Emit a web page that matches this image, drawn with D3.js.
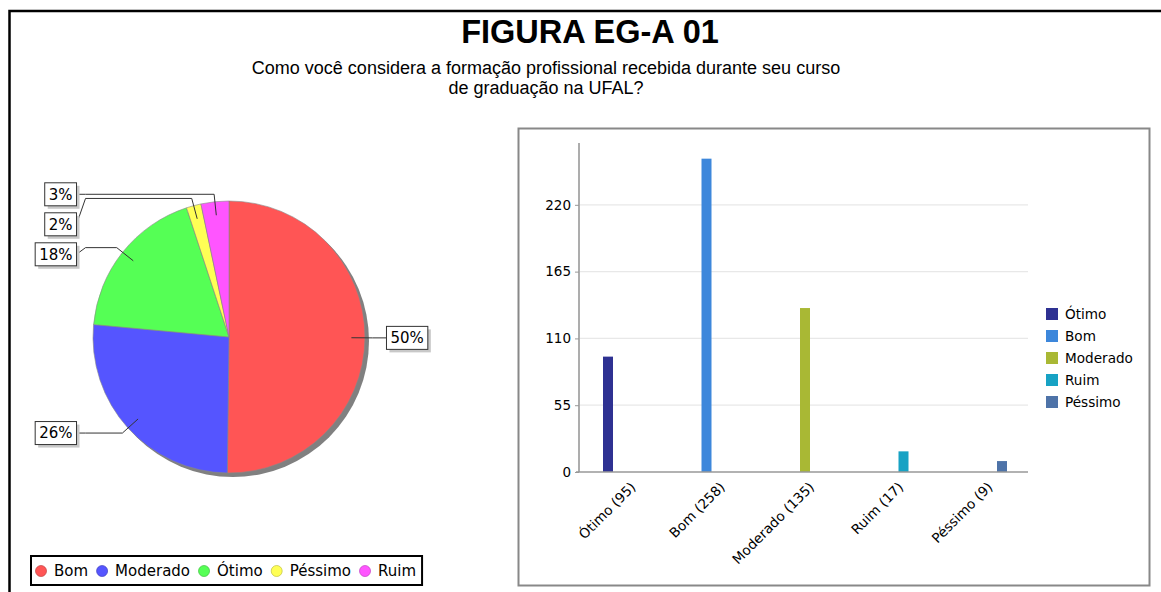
<!DOCTYPE html>
<html>
<head>
<meta charset="utf-8">
<script src="https://cdn.jsdelivr.net/npm/d3@7"></script>
<style>
  body { margin: 0; background: #fff; }
  svg { display: block; }
  text { font-family: "DejaVu Sans", sans-serif; fill: #000; }
</style>
</head>
<body>
<svg id="chart"></svg>
<script>
// Data
const categories = ["Ótimo", "Bom", "Moderado", "Ruim", "Péssimo"];
const counts = [95, 258, 135, 17, 9];
const barColors = ["#2e3192", "#3d87db", "#a9b834", "#17a2c4", "#4e73a8"];
const yTicks = [0, 55, 110, 165, 220];

const pieOrder = ["Bom", "Moderado", "Ótimo", "Péssimo", "Ruim"];
const pieColors = ["#ff5555", "#5555ff", "#55ff55", "#ffff55", "#ff55ff"];
const pieStroke = ["#c04040", "#4040c0", "#40c040", "#c0c040", "#c040c0"];

const titleText = "FIGURA EG-A 01";
const subtitleLines = [
  "Como você considera a formação profissional recebida durante seu curso",
  "de graduação na UFAL?"
];

const W = 1161, H = 592;
const svg = d3.select('#chart').attr('width', W).attr('height', H);

// outer frame
svg.append('path')
  .attr('d', `M9.5,${H} V11 H${W}`)
  .attr('fill', 'none')
  .attr('stroke', '#000')
  .attr('stroke-width', 2.5);

// titles
svg.append('text')
  .attr('x', 590).attr('y', 43)
  .attr('text-anchor', 'middle')
  .style('font-family', '"Liberation Sans", Arial, sans-serif')
  .style('font-weight', 'bold')
  .style('font-size', '32.5px')
  .text(titleText);

svg.selectAll('.sub')
  .data(subtitleLines)
  .enter()
  .append('text')
  .attr('class', 'sub')
  .attr('x', 546)
  .attr('y', (d, i) => 74 + i * 20)
  .attr('text-anchor', 'middle')
  .style('font-family', '"Liberation Sans", Arial, sans-serif')
  .style('font-size', '18px')
  .text(d => d);

// ---------- PIE ----------
const pieValues = pieOrder.map(n => counts[categories.indexOf(n)]);
const total = d3.sum(pieValues);
const cx = 229, cy = 337, R = 136;

const pie = d3.pie().sort(null).value(d => d)(pieValues);
const arc = d3.arc().innerRadius(0).outerRadius(R);

const pieG = svg.append('g').attr('transform', `translate(${cx},${cy})`);

pieG.append('circle')
  .attr('cx', 4).attr('cy', 4).attr('r', R)
  .attr('fill', '#808080');

pieG.selectAll('path.slice')
  .data(pie)
  .enter()
  .append('path')
  .attr('class', 'slice')
  .attr('d', arc)
  .attr('fill', (d, i) => pieColors[i])
  .attr('stroke', '#888')
  .attr('stroke-width', 0.6);

// label layout
const labels = pie.map((d, i) => {
  const mid = (d.startAngle + d.endAngle) / 2;
  const side = Math.sin(mid) >= 0 ? 1 : -1;
  return {
    text: Math.round(d.value / total * 100) + '%',
    mid, side,
    ax: Math.sin(mid) * R * 0.9, ay: -Math.cos(mid) * R * 0.9,
    ex: Math.sin(mid) * R * 1.055, ey: -Math.cos(mid) * R * 1.055
  };
});
labels.forEach(l => { l.y = l.ey; });
[-1, 1].forEach(s => {
  const group = labels.filter(l => l.side === s).sort((a, b) => a.ey - b.ey);
  for (let i = 1; i < group.length; i++) {
    if (group[i].y < group[i - 1].y + 30) group[i].y = group[i - 1].y + 30;
  }
});

const linkX = R * 1.055;
labels.forEach(l => {
  const g = pieG.append('g');
  const t = g.append('text')
    .style('font-size', '15px')
    .attr('dy', '0.36em')
    .text(l.text);
  const tw = t.node().getComputedTextLength();
  const bw = tw + 8, bh = 23;
  const bx = l.side > 0 ? linkX + 14 : -linkX - 9 - bw;
  const by = l.y - bh / 2;
  const edge = l.side > 0 ? bx : bx + bw;

  pieG.insert('path', 'g')
    .attr('d', d3.line()([[l.ax, l.ay], [l.ex, l.ey], [l.side * linkX, l.ey], [edge, l.y]]))
    .attr('fill', 'none')
    .attr('stroke', '#333')
    .attr('stroke-width', 1);

  g.insert('rect', 'text')
    .attr('x', bx + 3).attr('y', by + 3)
    .attr('width', bw).attr('height', bh)
    .attr('fill', '#c8c8c8');
  g.insert('rect', 'text')
    .attr('x', bx).attr('y', by)
    .attr('width', bw).attr('height', bh)
    .attr('fill', '#fff')
    .attr('stroke', '#333')
    .attr('stroke-width', 1);
  t.attr('x', bx + 4).attr('y', l.y);
});

// pie legend
const pl = svg.append('g');
const plItems = pl.selectAll('g').data(pieOrder).enter().append('g');
let px = 41;
plItems.each(function (d, i) {
  const g = d3.select(this);
  g.append('circle')
    .attr('cx', px).attr('cy', 571).attr('r', 5.5)
    .attr('fill', pieColors[i])
    .attr('stroke', pieStroke[i])
    .attr('stroke-width', 0.7);
  const t = g.append('text')
    .attr('x', px + 13).attr('y', 571)
    .attr('dy', '0.36em')
    .style('font-size', '15px')
    .text(d);
  px += 13 + t.node().getComputedTextLength() + 14;
});
pl.insert('rect', 'g')
  .attr('x', 31).attr('y', 556)
  .attr('width', px - 31 - 8).attr('height', 29)
  .attr('fill', '#fff')
  .attr('stroke', '#000')
  .attr('stroke-width', 2);

// ---------- BAR CHART ----------
svg.append('rect')
  .attr('x', 518.5).attr('y', 128.5)
  .attr('width', 631).attr('height', 457)
  .attr('fill', '#fff')
  .attr('stroke', '#888')
  .attr('stroke-width', 2);

const x0 = d3.scaleBand().domain(categories).range([582, 1028]).padding(0);
const subW = 46.5;
const x1 = d3.scaleBand().domain(categories)
  .range([x0.bandwidth() / 2 - subW / 2, x0.bandwidth() / 2 + subW / 2]);
const y = d3.scaleLinear().domain([0, 258 * 1.05]).range([472, 143]);

// gridlines
svg.append('g')
  .selectAll('line')
  .data(yTicks.filter(t => t > 0))
  .enter()
  .append('line')
  .attr('x1', 580).attr('x2', 1028)
  .attr('y1', d => y(d)).attr('y2', d => y(d))
  .attr('stroke', '#e8e8e8')
  .attr('stroke-width', 1.2);

// bars
svg.append('g')
  .selectAll('rect')
  .data(categories)
  .enter()
  .append('rect')
  .attr('x', (d, i) => x0(d) + x1(d) + (x1.bandwidth() - 10) / 2)
  .attr('y', (d, i) => y(counts[i]))
  .attr('width', 10)
  .attr('height', (d, i) => y(0) - y(counts[i]))
  .attr('fill', (d, i) => barColors[i]);

// y axis
const yAxis = d3.axisLeft(y).tickValues(yTicks).tickSize(4).tickPadding(4);
const yg = svg.append('g')
  .attr('transform', 'translate(579,0)')
  .call(yAxis);
yg.select('.domain').attr('stroke', '#999').attr('stroke-width', 1.6).attr('d', `M0,143V472`);
yg.selectAll('.tick line').attr('stroke', '#999');
yg.selectAll('.tick text')
  .style('font-size', '13.5px')
  .style('font-family', '"DejaVu Sans", sans-serif')
  .attr('fill', '#222');

// x axis
const xg = svg.append('g');
xg.append('line')
  .attr('x1', 576).attr('x2', 1028)
  .attr('y1', y(0)).attr('y2', y(0))
  .attr('stroke', '#999')
  .attr('stroke-width', 1.6);
xg.selectAll('text')
  .data(categories)
  .enter()
  .append('text')
  .attr('text-anchor', 'end')
  .attr('transform', d => `translate(${x0(d) + x0.bandwidth() / 2 + 10},488) rotate(-45)`)
  .style('font-size', '13.6px')
  .attr('fill', '#222')
  .text((d, i) => `${d} (${counts[i]})`);

// bar legend
const bl = svg.append('g')
  .selectAll('g')
  .data(categories)
  .enter()
  .append('g')
  .attr('transform', (d, i) => `translate(1046,${314 + i * 22})`);
bl.append('rect')
  .attr('x', 0).attr('y', -6)
  .attr('width', 12).attr('height', 12)
  .attr('fill', (d, i) => barColors[i]);
bl.append('text')
  .attr('x', 19).attr('y', 0)
  .attr('dy', '0.36em')
  .style('font-size', '13.6px')
  .attr('fill', '#222')
  .text(d => d);
</script>
</body>
</html>
